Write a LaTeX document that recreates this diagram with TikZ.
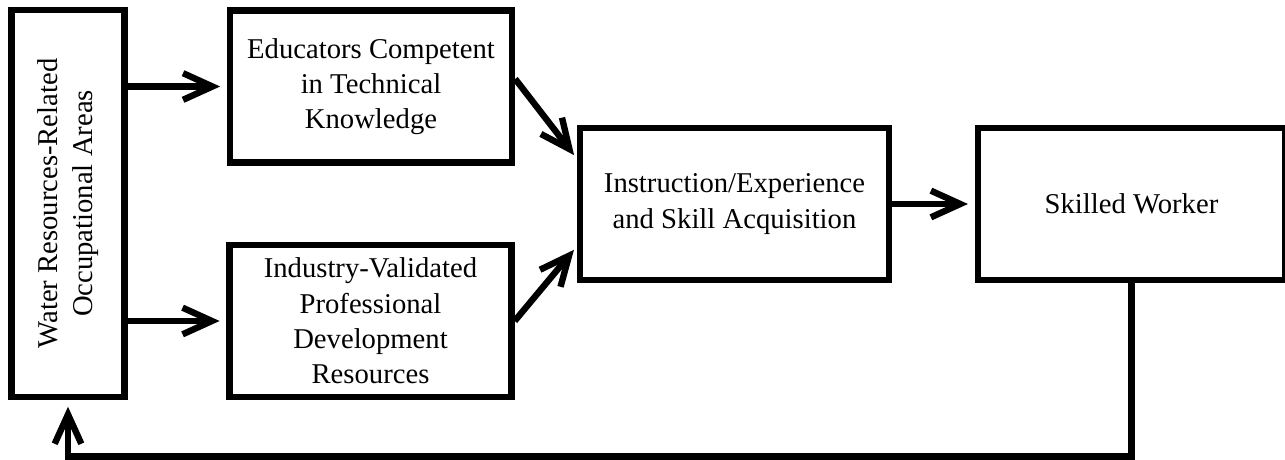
\documentclass[tikz,border=0pt]{standalone}
\usepackage{fontspec}
\setmainfont{Liberation Serif}
\usetikzlibrary{arrows.meta, calc, positioning}

\begin{document}
\begin{tikzpicture}[x=0.75pt,y=0.75pt,yscale=-1,xscale=1,
  box/.style={draw, line width=4.8pt, align=center, inner sep=0pt, font=\fontsize{21.5}{26.5}\selectfont},
  flow/.style={line width=4.8pt, -{Straight Barb[length=22pt, width=20pt, line cap=butt, line join=miter]}, shorten >=5pt}]
%set diagram left start at 0, and has height of 460
\useasboundingbox (0,0) rectangle (1285,460);

%Shape: Rectangle [water]
\node[box, minimum width=85pt, minimum height=290pt] (water) at (68,203.5) {\rotatebox{90}{\begin{tabular}{@{}c@{}}Water Resources-Related\\Occupational Areas\end{tabular}}};
%Shape: Rectangle [educators]
\node[box, minimum width=211.5pt, minimum height=114pt] (educ) at (371,86.5) {Educators Competent\\in Technical\\Knowledge};
%Shape: Rectangle [industry]
\node[box, minimum width=211.5pt, minimum height=114pt] (indus) at (370.5,321) {Industry-Validated\\Professional\\Development\\Resources};
%Shape: Rectangle [instruction]
\node[box, minimum width=231.5pt, minimum height=113.6pt] (instr) at (734.5,204) {Instruction/Experience\\and Skill Acquisition};
%Shape: Rectangle [worker]
\node[box, minimum width=230.5pt, minimum height=113.6pt] (worker) at (1131.5,204) {Skilled Worker};

%Straight Lines
\draw[flow] (water.east |- educ.west) -- (educ.west);
\draw[flow] (water.east |- indus.west) -- (indus.west);
\draw[flow, shorten >=3.5pt] (educ.3) -- (instr.164);
\draw[flow, shorten >=3.5pt] (indus.east) -- (instr.195);
\draw[flow] (instr.east) -- (worker.west);

%Feedback line
\coordinate (low) at (66,456.5);
\draw[flow] (worker.south) -- (worker.south |- low) -| (water.south);

\end{tikzpicture}
\end{document}
